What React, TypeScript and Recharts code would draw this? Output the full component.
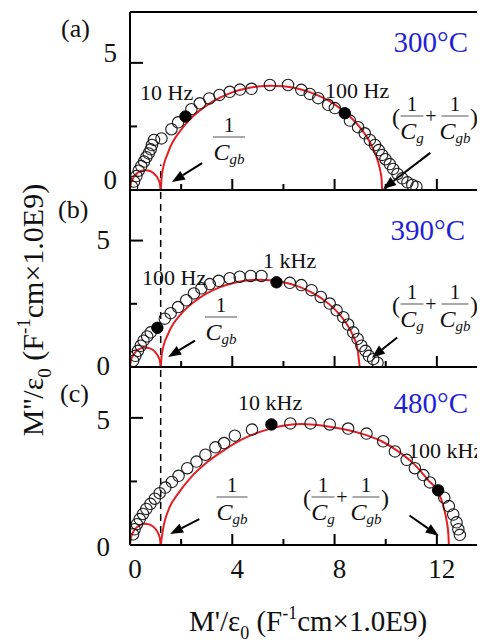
import React from "react";
import { ComposedChart, XAxis, YAxis, Scatter, Line, ReferenceLine } from "recharts";

const FONT = "'Liberation Serif', 'Times New Roman', serif";
const RED = "#e41e24";
const BLUE = "#1f1fd8";

type Pt = [number, number];

const xTicks = [0, 2, 4, 6, 8, 10, 12];
const xLabels = [0, 4, 8, 12];
const yTicks = [0, 2.5, 5];
const yLabels = [0, 5];
const gbX = 1.2;

// (a) 300°C
const circlesA: Pt[] = [
  [0.08, 0.13], [0.16, 0.33], [0.25, 0.55], [0.34, 0.76], [0.44, 0.94], [0.55, 1.12],
  [0.64, 1.29], [0.73, 1.44], [0.81, 1.6], [0.86, 1.77], [0.94, 1.97], [1.23, 2.03],
  [1.62, 2.39], [1.88, 2.66], [2.4, 3.18], [2.73, 3.41], [3.1, 3.6], [3.5, 3.74],
  [3.9, 3.86], [4.3, 3.95], [4.75, 3.98], [5.47, 4.13], [6.18, 4.13], [6.7, 3.94],
  [7.03, 3.78], [7.36, 3.61], [7.75, 3.35], [8.01, 3.22], [8.6, 2.73], [8.92, 2.47],
  [9.18, 2.23], [9.38, 1.97], [9.58, 1.77], [9.73, 1.57], [9.86, 1.38], [9.99, 1.21],
  [10.16, 1.02], [10.29, 0.83], [10.46, 0.63], [10.65, 0.46], [10.85, 0.3], [11.04, 0.2],
  [11.2, 0.13],
];
const filledA: Pt[] = [[2.17, 2.89], [8.4, 3.02]];
const smallArcA: Pt[] = [
  [0, 0], [0.03, 0.24], [0.1, 0.43], [0.2, 0.58], [0.3, 0.68], [0.45, 0.755], [0.6, 0.78],
  [0.75, 0.755], [0.9, 0.68], [1.0, 0.58], [1.1, 0.43], [1.17, 0.24], [1.2, 0],
];
const bigArcA: Pt[] = [
  [1.2, 0], [1.25, 0.62], [1.5, 1.5], [2, 2.37], [2.5, 2.93], [3, 3.33], [3.5, 3.62],
  [4, 3.84], [4.5, 3.98], [5, 4.07], [5.53, 4.1], [6, 4.08], [6.5, 4.0], [7, 3.86],
  [7.5, 3.65], [8, 3.37], [8.5, 2.98], [9, 2.45], [9.4, 1.84], [9.7, 1.11], [9.8, 0.69],
  [9.84, 0.41], [9.86, 0],
];
const arrowsA: [Pt, Pt][] = [
  [[2.82, 1.06], [1.64, 0.31]],
  [[11.74, 1.46], [9.9, 0.04]],
];

// (b) 390°C
const circlesB: Pt[] = [
  [0.12, 0.24], [0.21, 0.44], [0.31, 0.64], [0.42, 0.84], [0.53, 1.04], [0.67, 1.21],
  [0.81, 1.37], [1.36, 1.91], [1.59, 2.13], [1.88, 2.37], [2.2, 2.64], [2.5, 2.91],
  [2.79, 3.11], [3.12, 3.28], [3.47, 3.41], [3.9, 3.51], [4.29, 3.57], [4.72, 3.6],
  [5.14, 3.6], [6.25, 3.33], [6.7, 3.24], [7.1, 3.04], [7.46, 2.77], [7.81, 2.51],
  [8.08, 2.24], [8.34, 1.97], [8.53, 1.68], [8.73, 1.37], [8.9, 1.11], [9.05, 0.84],
  [9.21, 0.64], [9.34, 0.44], [9.51, 0.31], [9.68, 0.17],
];
const filledB: Pt[] = [[1.07, 1.55], [5.73, 3.35]];
const smallArcB: Pt[] = [
  [0, 0], [0.03, 0.24], [0.1, 0.42], [0.2, 0.57], [0.3, 0.67], [0.45, 0.745], [0.6, 0.77],
  [0.75, 0.745], [0.9, 0.67], [1.0, 0.57], [1.1, 0.42], [1.17, 0.24], [1.2, 0],
];
const bigArcB: Pt[] = [
  [1.2, 0], [1.25, 0.55], [1.5, 1.33], [2, 2.1], [2.5, 2.57], [3, 2.91], [3.5, 3.15],
  [4, 3.31], [4.5, 3.41], [5.09, 3.45], [5.5, 3.43], [6, 3.35], [6.5, 3.22], [7, 3.0],
  [7.5, 2.71], [8, 2.29], [8.4, 1.81], [8.7, 1.29], [8.9, 0.7], [8.98, 0],
];
const arrowsB: [Pt, Pt][] = [
  [[2.54, 1.04], [1.49, 0.4]],
  [[10.45, 1.17], [9.46, 0.37]],
];

// (c) 480°C
const circlesC: Pt[] = [
  [0.12, 0.42], [0.18, 0.62], [0.27, 0.82], [0.38, 1.02], [0.51, 1.22], [0.64, 1.42],
  [0.8, 1.62], [0.97, 1.82], [1.16, 2.04], [1.38, 2.26], [1.64, 2.48], [1.9, 2.72],
  [2.24, 3.02], [2.6, 3.28], [2.95, 3.55], [3.34, 3.84], [3.68, 4.01], [4.1, 4.3],
  [4.77, 4.54], [6.27, 4.78], [7.06, 4.78], [7.81, 4.74], [8.53, 4.58], [9.25, 4.38],
  [9.9, 4.08], [10.36, 3.68], [10.82, 3.35], [11.14, 3.02], [11.47, 2.75], [11.73, 2.46],
  [12.29, 1.86], [12.47, 1.53], [12.64, 1.2], [12.77, 0.89], [12.84, 0.62], [12.9, 0.4],
];
const filledC: Pt[] = [[5.53, 4.74], [12.05, 2.15]];
const smallArcC: Pt[] = [
  [0, 0], [0.03, 0.26], [0.1, 0.46], [0.2, 0.63], [0.3, 0.73], [0.45, 0.81], [0.6, 0.84],
  [0.75, 0.81], [0.9, 0.73], [1.0, 0.63], [1.1, 0.46], [1.17, 0.26], [1.2, 0],
];
const bigArcC: Pt[] = [
  [1.2, 0], [1.33, 0.82], [1.55, 1.49], [1.88, 2.02], [2.4, 2.68], [3.05, 3.28],
  [3.71, 3.75], [4.36, 4.14], [5.14, 4.47], [5.92, 4.68], [6.7, 4.76], [7.49, 4.7],
  [8.27, 4.57], [9.05, 4.38], [9.84, 4.08], [10.49, 3.68], [11.14, 3.15], [11.66, 2.55],
  [12.05, 2.08], [12.25, 1.55], [12.38, 0.96], [12.45, 0.43], [12.47, 0],
];
const arrowsC: [Pt, Pt][] = [
  [[2.71, 1.02], [1.57, 0.43]],
  [[10.93, 1.16], [12.07, 0.36]],
];

const toXY = (pts: Pt[]) => pts.map(([x, y]) => ({ x, y }));

const Arrow = (props: any) => {
  const { x1, y1, x2, y2 } = props;
  const a = Math.atan2(y2 - y1, x2 - x1);
  const len = 13;
  const half = 5;
  const bx = x2 - len * Math.cos(a);
  const by = y2 - len * Math.sin(a);
  const px = -Math.sin(a) * half;
  const py = Math.cos(a) * half;
  return (
    <g>
      <line x1={x1} y1={y1} x2={bx} y2={by} stroke="#000" strokeWidth={2} />
      <polygon points={`${x2},${y2} ${bx + px},${by + py} ${bx - px},${by - py}`} fill="#000" />
    </g>
  );
};

const makeXTick = (showLabels: boolean) => (props: any) => {
  const { x, y, payload } = props;
  const v = payload.value;
  const major = xLabels.includes(v);
  return (
    <g>
      <line x1={x} y1={y} x2={x} y2={y - (major ? 11 : 6)} stroke="#000" strokeWidth={2} />
      {showLabels && major && (
        <text x={x + 5} y={y + 33} textAnchor="middle" fontSize={27} fontFamily={FONT} fill="#111">
          {v}
        </text>
      )}
    </g>
  );
};

const makeYTick = (gap: number, dy: number) => (props: any) => {
  const { x, y, payload } = props;
  const v = payload.value;
  const major = yLabels.includes(v);
  return (
    <g>
      <line x1={x} y1={y} x2={x + (major ? 13 : 7)} y2={y} stroke="#000" strokeWidth={2} />
      {major && (
        <text x={x - gap} y={y + dy} textAnchor="end" fontSize={27} fontFamily={FONT} fill="#111">
          {v}
        </text>
      )}
    </g>
  );
};

const openDot = (p: any) => (
  <circle cx={p.cx} cy={p.cy} r={5.7} fill="none" stroke="#1a1a1a" strokeWidth={1.1} />
);
const fullDot = (p: any) => <circle cx={p.cx} cy={p.cy} r={5.7} fill="#000" stroke="#000" />;

type PanelProps = {
  top: number;
  plotH: number;
  axisH: number;
  circles: Pt[];
  filled: Pt[];
  smallArc: Pt[];
  bigArc: Pt[];
  arrows: [Pt, Pt][];
  showXLabels: boolean;
  yGap: number;
  yDy: number;
  topBorder?: boolean;
  shortDash?: boolean;
};

const Panel = (p: PanelProps) => (
  <div style={{ position: "absolute", left: 0, top: p.top }}>
    <ComposedChart
      width={490}
      height={4 + p.plotH + p.axisH}
      margin={{ top: 4, right: 10, bottom: 0, left: 0 }}
    >
      <XAxis
        type="number"
        dataKey="x"
        domain={[0, 14]}
        ticks={xTicks}
        interval={0}
        allowDataOverflow
        height={p.axisH}
        tickSize={0}
        tickMargin={0}
        tickLine={false}
        axisLine={{ stroke: "#000", strokeWidth: 2 }}
        tick={makeXTick(p.showXLabels)}
      />
      <YAxis
        type="number"
        dataKey="y"
        domain={[0, 7]}
        ticks={yTicks}
        interval={0}
        allowDataOverflow
        width={122}
        tickSize={0}
        tickMargin={0}
        tickLine={false}
        axisLine={{ stroke: "#000", strokeWidth: 2 }}
        tick={makeYTick(p.yGap, p.yDy)}
      />
      {p.topBorder && <ReferenceLine y={7} stroke="#000" strokeWidth={2} />}
      {p.shortDash ? (
        <ReferenceLine
          segment={[{ x: gbX, y: 0 }, { x: gbX, y: 1.0 }]}
          stroke="#000"
          strokeWidth={1.5}
          strokeDasharray="7 5"
        />
      ) : (
        <ReferenceLine x={gbX} stroke="#000" strokeWidth={1.5} strokeDasharray="7 5" />
      )}
      <Line
        data={toXY(p.smallArc)}
        dataKey="y"
        type="monotone"
        stroke={RED}
        strokeWidth={2}
        dot={false}
        activeDot={false}
        isAnimationActive={false}
      />
      <Line
        data={toXY(p.bigArc)}
        dataKey="y"
        type="monotone"
        stroke={RED}
        strokeWidth={2}
        dot={false}
        activeDot={false}
        isAnimationActive={false}
      />
      <Scatter data={toXY(p.circles)} shape={openDot} isAnimationActive={false} />
      <Scatter data={toXY(p.filled)} shape={fullDot} isAnimationActive={false} />
      {p.arrows.map(([from, to], i) => (
        <ReferenceLine
          key={i}
          segment={[{ x: from[0], y: from[1] }, { x: to[0], y: to[1] }]}
          shape={Arrow}
        />
      ))}
    </ComposedChart>
  </div>
);

const Frac = ({ cx, by, w, sub }: { cx: number; by: number; w: number; sub: string }) => (
  <g>
    <text x={cx} y={by - 5} textAnchor="middle" fontSize={21}>
      1
    </text>
    <line x1={cx - w / 2} y1={by} x2={cx + w / 2} y2={by} stroke="#555" strokeWidth={1} />
    <text x={cx} y={by + 23} textAnchor="middle" fontStyle="italic">
      <tspan fontSize={24}>C</tspan>
      <tspan fontSize={15} dy={4}>
        {sub}
      </tspan>
    </text>
  </g>
);

const FracSum = ({ x, by }: { x: number; by: number }) => (
  <g>
    <text x={x} y={by + 9} fontSize={24}>
      (
    </text>
    <Frac cx={x + 20} by={by} w={23} sub="g" />
    <text x={x + 39} y={by + 7} fontSize={20} textAnchor="middle">
      +
    </text>
    <Frac cx={x + 63} by={by} w={27} sub="gb" />
    <text x={x + 78} y={by + 9} fontSize={24}>
      )
    </text>
  </g>
);

const Overlay = () => (
  <svg
    width={477}
    height={635}
    style={{ position: "absolute", left: 0, top: 0, pointerEvents: "none" }}
    fontFamily={FONT}
    fill="#111"
  >
    <g transform="translate(-8,-8)">
      <text x={61} y={37} fontSize={26}>(a)</text>
      <text x={58} y={218} fontSize={26}>(b)</text>
      <text x={60} y={402} fontSize={26}>(c)</text>

      <text x={468} y={52} fontSize={29} textAnchor="end" fill={BLUE}>300°C</text>
      <text x={465} y={240} fontSize={29} textAnchor="end" fill={BLUE}>390°C</text>
      <text x={468} y={413} fontSize={29} textAnchor="end" fill={BLUE}>480°C</text>

      <text x={140} y={100} fontSize={22}>10 Hz</text>
      <text x={325} y={98} fontSize={22}>100 Hz</text>
      <text x={142} y={285} fontSize={22}>100 Hz</text>
      <text x={263} y={268} fontSize={22}>1 kHz</text>
      <text x={238} y={410} fontSize={22}>10 kHz</text>
      <text x={408} y={458} fontSize={22}>100 kHz</text>

      <Frac cx={229} by={137} w={32} sub="gb" />
      <FracSum x={392} by={116} />
      <Frac cx={221} by={317} w={32} sub="gb" />
      <FracSum x={392} by={304} />
      <Frac cx={232} by={497} w={31} sub="gb" />
      <FracSum x={303} by={497} />

      <text x={308} y={631} textAnchor="middle" fontSize={29}>
        M'/ε
        <tspan fontSize={18} dy={8}>0</tspan>
        <tspan dy={-8}> (F</tspan>
        <tspan fontSize={18} dy={-12}>-1</tspan>
        <tspan dy={12}>cm×1.0E9)</tspan>
      </text>
      <text transform="translate(43,310) rotate(-90)" x={0} y={0} textAnchor="middle" fontSize={30}>
        M''/ε
        <tspan fontSize={19} dy={8}>0</tspan>
        <tspan dy={-8}> (F</tspan>
        <tspan fontSize={19} dy={-13}>-1</tspan>
        <tspan dy={13}>cm×1.0E9)</tspan>
      </text>
    </g>
  </svg>
);

export default function App() {
  return (
    <div style={{ position: "relative", width: 477, height: 635, overflow: "hidden", background: "#fff" }}>
      <Panel
        top={0}
        plotH={178}
        axisH={24}
        circles={circlesA}
        filled={filledA}
        smallArc={smallArcA}
        bigArc={bigArcA}
        arrows={arrowsA}
        showXLabels={false}
        yGap={13}
        yDy={-1}
        topBorder
        shortDash
      />
      <Panel
        top={178}
        plotH={177}
        axisH={24}
        circles={circlesB}
        filled={filledB}
        smallArc={smallArcB}
        bigArc={bigArcB}
        arrows={arrowsB}
        showXLabels={false}
        yGap={20}
        yDy={8}
      />
      <Panel
        top={355}
        plotH={178}
        axisH={50}
        circles={circlesC}
        filled={filledC}
        smallArc={smallArcC}
        bigArc={bigArcC}
        arrows={arrowsC}
        showXLabels
        yGap={20}
        yDy={11}
      />
      <Overlay />
    </div>
  );
}
